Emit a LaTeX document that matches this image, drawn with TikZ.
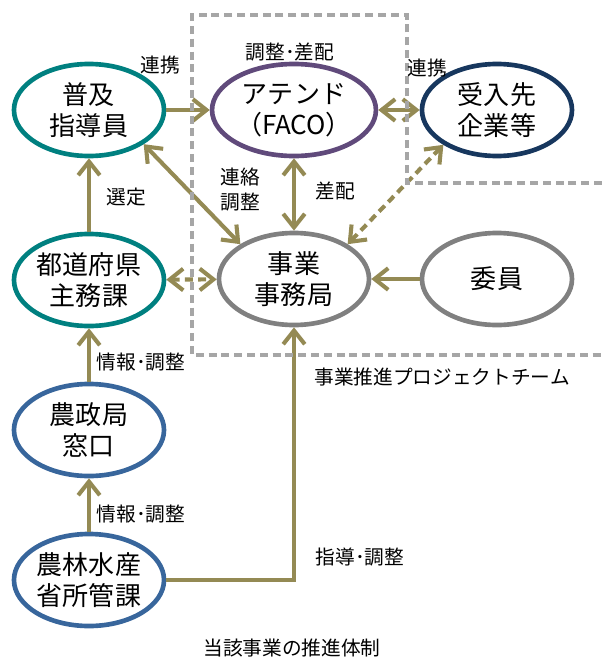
\documentclass[tikz,border=0pt]{standalone}
\usepackage{fontspec}
\setmainfont{Noto Sans CJK JP}
\usetikzlibrary{shapes.geometric, arrows.meta}

\definecolor{tealline}{RGB}{0,128,128}
\definecolor{purpleline}{RGB}{96,74,123}
\definecolor{navyline}{RGB}{23,55,94}
\definecolor{grayline}{RGB}{128,128,128}
\definecolor{blueline}{RGB}{56,102,156}
\definecolor{olive}{RGB}{148,138,84}
\definecolor{boxgray}{RGB}{166,166,166}

\begin{document}
\begin{tikzpicture}[x=0.025cm, y=-0.025cm,
    organ/.style={ellipse, draw, line width=3.3pt, minimum width=3.75cm,
      minimum height=2.3cm, inner sep=0pt, align=center,
      font=\fontsize{18.5}{22}\selectfont},
    link/.style={draw=olive, line width=2.9pt},
    dashlink/.style={link, dash pattern=on 0.2cm off 0.13cm},
    lbl/.style={inner sep=0pt, align=center, font=\fontsize{14}{17.8}\selectfont},
    >={Straight Barb[length=3.4mm,width=5.4mm]}]
    \useasboundingbox (0,0) rectangle (602,659);
    % Draw the organisations
    \node[organ, draw=tealline] (fukyu) at (89,110) {普及\\指導員};
    \node[organ, draw=purpleline] (attend) at (294,110) {アテンド\\（FACO）};
    \node[organ, draw=navyline] (ukeire) at (497,110) {受入先\\企業等};
    \node[organ, draw=tealline] (todofuken) at (89,280) {都道府県\\主務課};
    \node[organ, draw=grayline] (jimukyoku) at (294,279) {事業\\事務局};
    \node[organ, draw=grayline] (iin) at (497,279) {委員};
    \node[organ, draw=blueline] (noseikyoku) at (89,430) {農政局\\窓口};
    \node[organ, draw=blueline] (shokan) at (89,580) {農林水産\\省所管課};

    % Draw the links
    \draw[link, ->] (fukyu) -- (attend);
    \draw[link, <->] (attend) -- (ukeire);
    \draw[link, <->] (fukyu.-32) -- (jimukyoku.147);
    \draw[link, <->] (attend) -- (jimukyoku);
    \draw[dashlink, <->] (ukeire.213) -- (jimukyoku.33);
    \draw[link, ->] (iin) -- (jimukyoku);
    \draw[dashlink, <->] (todofuken) -- (jimukyoku);
    \draw[link, ->] (todofuken) -- (fukyu);
    \draw[link, ->] (noseikyoku) -- (todofuken);
    \draw[link, ->] (shokan) -- (noseikyoku);
    \draw[link, ->] (shokan.east) -| (jimukyoku.south);

    % Draw the project team frame
    \draw[boxgray, line width=2.6pt, dash pattern=on 0.2cm off 0.12cm]
    (602,183) -- (407,183) -- (407,15) -- (192,15) -- (192,355) -- (602,355);

    \node[lbl] (renkei_a) at (160,65) {連携};
    \node[lbl] (chosei_sahai) at (290,52) {調整･差配};
    \node[lbl] (renkei_b) at (427,68) {連携};
    \node[lbl] (renraku) at (240,190) {連絡\\調整};
    \node[lbl] (sahai) at (335,191) {差配};
    \node[lbl] (sentei) at (126,197) {選定};
    \node[lbl] (joho_a) at (141,362) {情報･調整};
    \node[lbl] (joho_b) at (141,514) {情報･調整};
    \node[lbl] (shido) at (360,557) {指導･調整};
    \node[lbl] (team) at (442,377) {事業推進プロジェクトチーム};
    \node[lbl] (title) at (292,648) {当該事業の推進体制};
  \end{tikzpicture}
\end{document}
